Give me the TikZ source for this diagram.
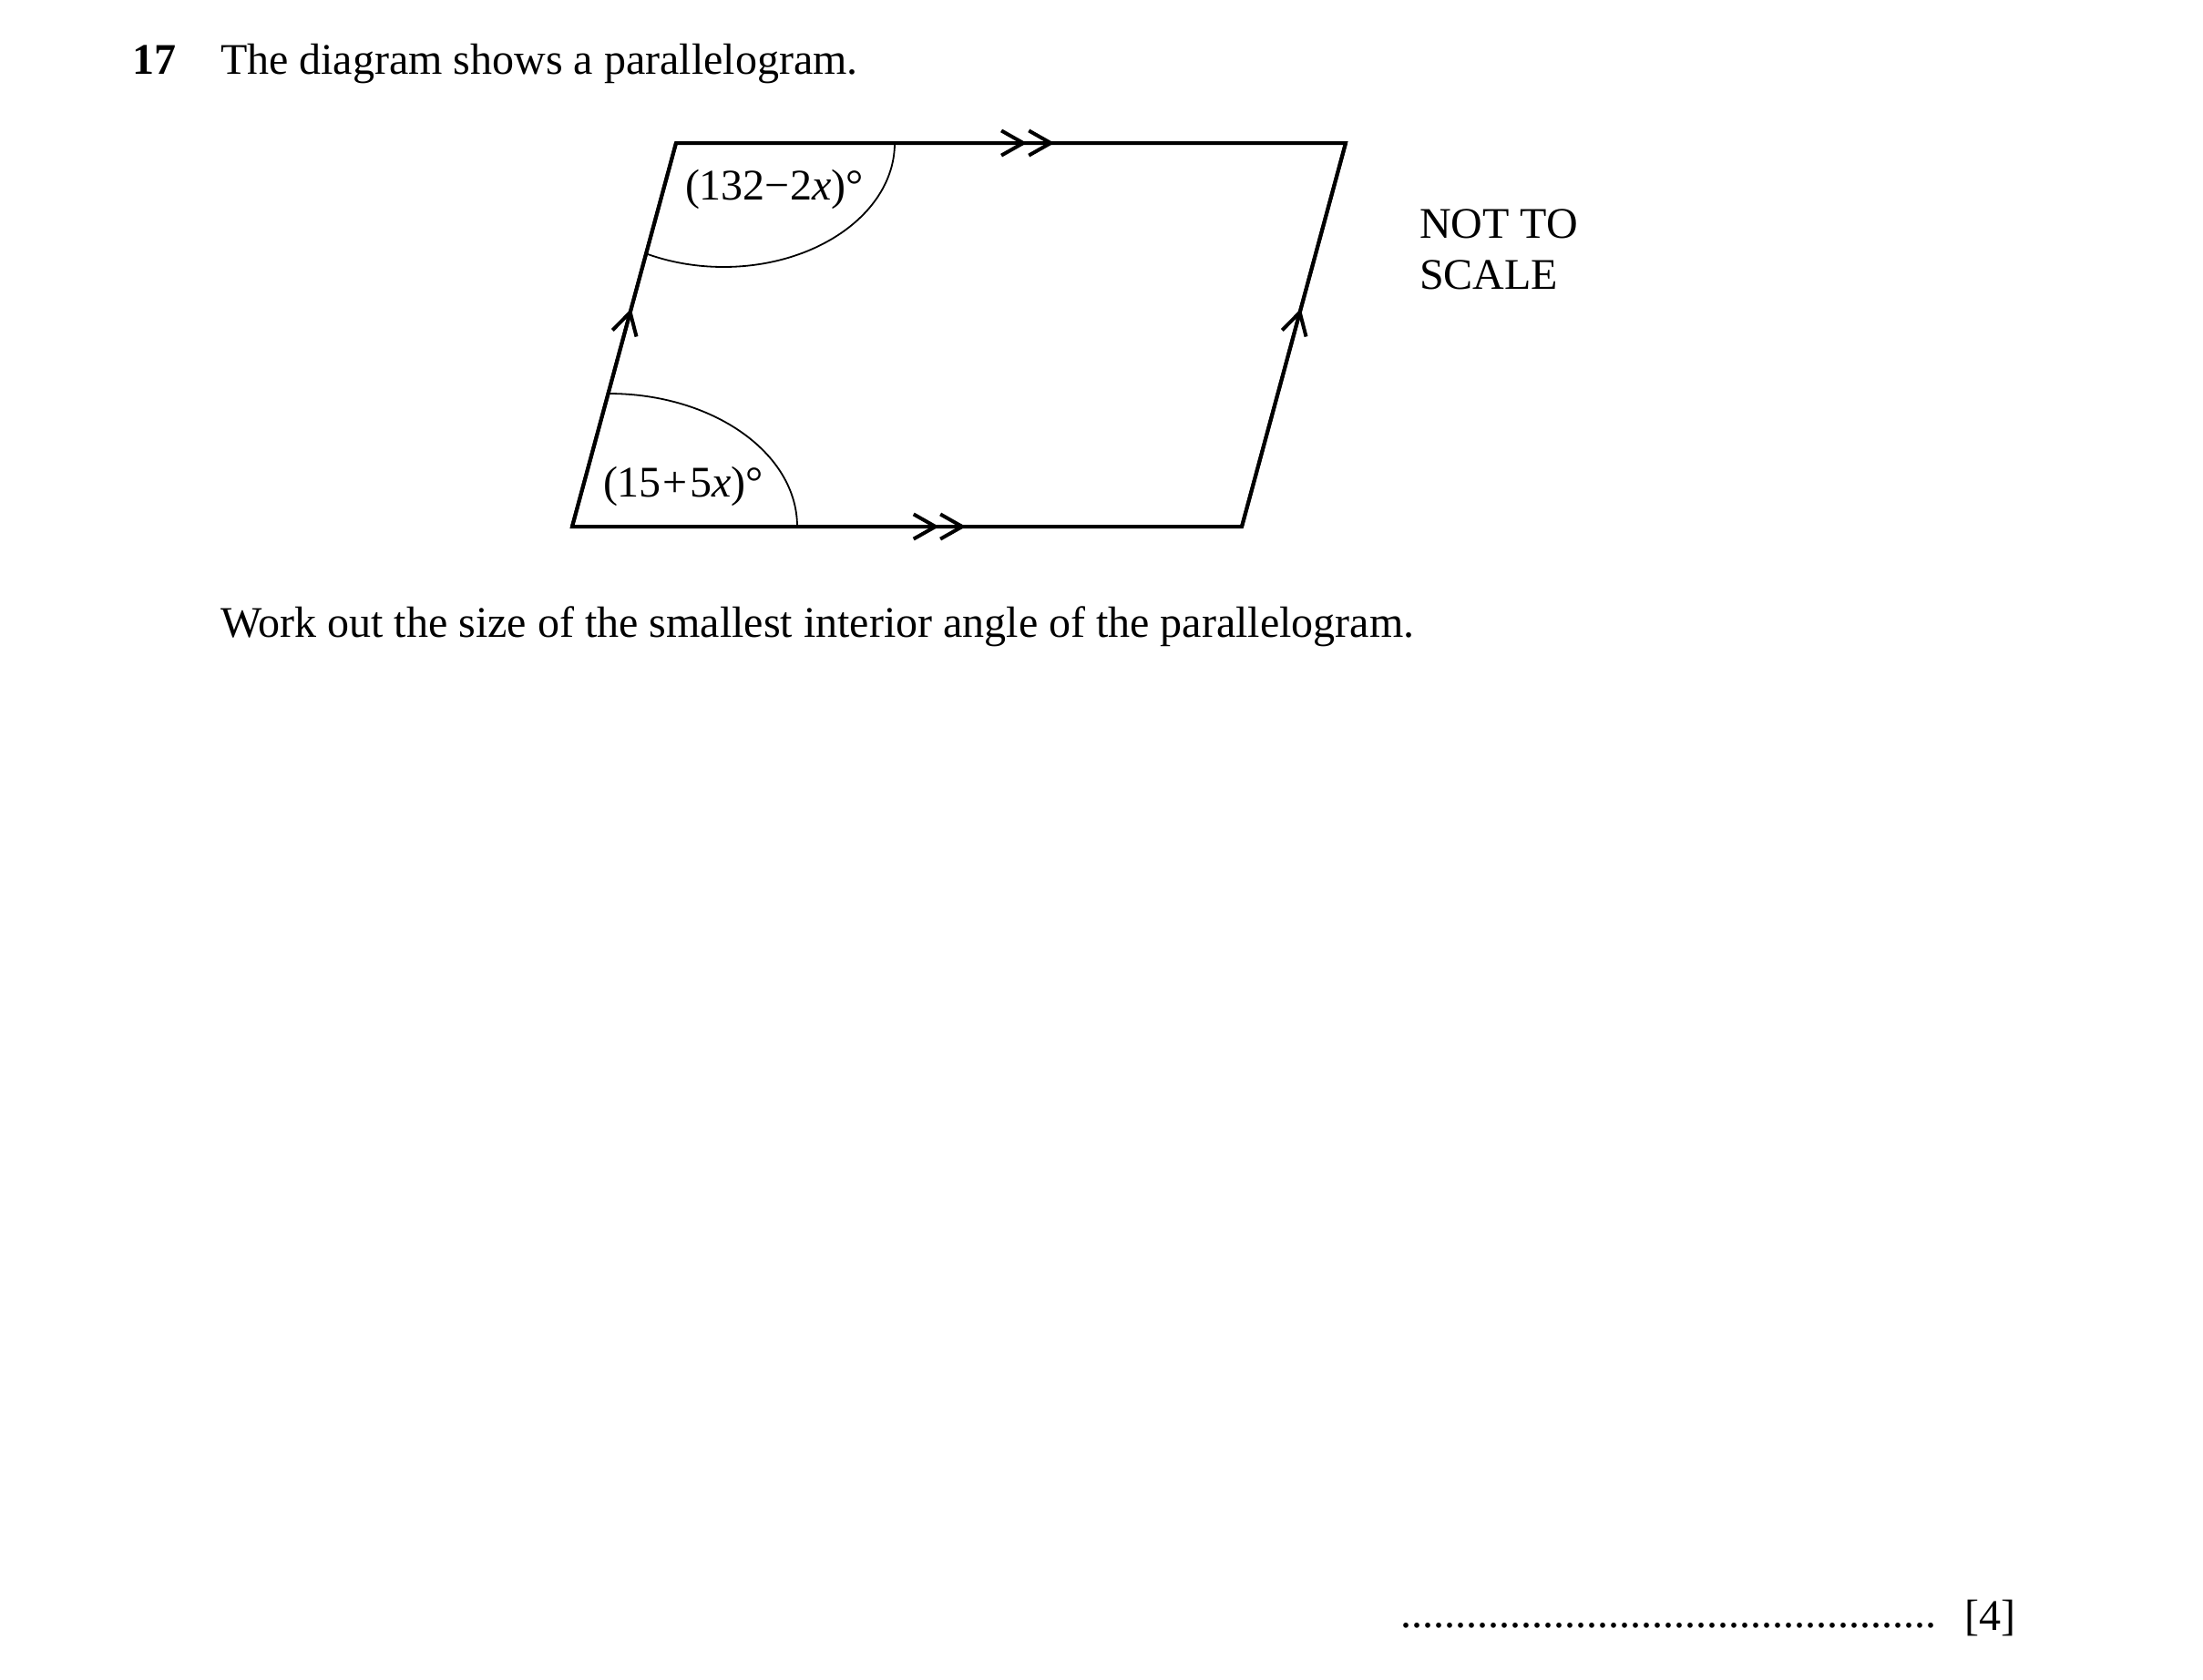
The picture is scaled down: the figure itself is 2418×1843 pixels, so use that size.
\documentclass[tikz,border=0pt]{standalone}
\usepackage{fontspec}
\setmainfont{Liberation Serif}
\usetikzlibrary{arrows.meta}
\usetikzlibrary{decorations.markings}
\newcommand{\sidewidth}{1pt}
\newcommand{\barbtip}{Straight Barb[length=6pt, width=6.8pt]}
\tikzstyle{side}=[line width=\sidewidth, line join=miter]
\tikzstyle{anglearc}=[line width=0.45pt]
\tikzstyle{txt}=[inner sep=0, outer sep=0, anchor=base west, font=\fontsize{12}{14}\selectfont]
\tikzset{
  onebarb/.style={postaction={decorate}, decoration={markings,
      mark=at position #1 with {\arrow[line width=\sidewidth]{\barbtip}}}},
  twobarbs/.style 2 args={postaction={decorate}, decoration={markings,
      mark=at position #1 with {\arrow[line width=\sidewidth]{\barbtip}},
      mark=at position #2 with {\arrow[line width=\sidewidth]{\barbtip}}}}
}

\begin{document}
\begin{tikzpicture}[x=0.25pt, y=-0.25pt]
    % page frame, pixel units
    \useasboundingbox (0,0) rectangle (2418,1843);
    \node[txt, font=\fontsize{12}{14}\selectfont\bfseries] (qnum) at (145,81) {17};
    \node[txt] (intro) at (242,81) {The diagram shows a parallelogram.};
    % vertices
    \coordinate (BL) at (628,578);
    \coordinate (BR) at (1363,578);
    \coordinate (TR) at (1477,157);
    \coordinate (TL) at (742,157);
    \draw[side] (BL) -- (BR) -- (TR) -- (TL) -- cycle;
    % parallel marks
    \draw[side, twobarbs={0.548}{0.588}] (BL) -- (BR);
    \draw[side, twobarbs={0.524}{0.565}] (TL) -- (TR);
    \draw[side, onebarb=0.568] (BL) -- (TL);
    \draw[side, onebarb=0.568] (BR) -- (TR);
    % angle arcs
    \coordinate (arcB) at (668,432);
    \coordinate (arcT) at (982,157);
    \draw[anglearc] (arcB) arc[start angle=90, end angle=0, x radius=51.75pt, y radius=36.5pt];
    \draw[anglearc] (arcT) arc[start angle=0, end angle=-117, x radius=47pt, y radius=34pt];
    \node[txt] (angT) at (752,219) {(132−2\textit{x})°};
    \node[txt] (angB) at (662,545) {(15\kern0.5pt+\kern0.5pt5\textit{x})°};
    \node[txt] (nts1) at (1558,261) {NOT TO};
    \node[txt] (nts2) at (1558,317) {SCALE};
    \node[txt] (task) at (242,699) {Work out the size of the smallest interior angle of the parallelogram.};
    \node[txt] (dots) at (1537,1786) {.................................................};
    \node[txt] (marks) at (2156,1789) {[4]};
\end{tikzpicture}
\end{document}
